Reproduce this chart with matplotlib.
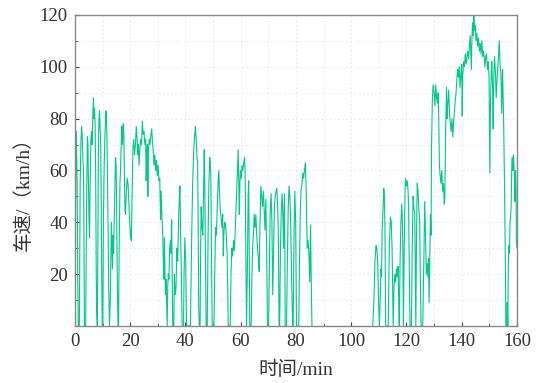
import matplotlib

matplotlib.use("Agg")
import matplotlib.pyplot as plt
from matplotlib.ticker import MultipleLocator

LINE = "#00c98a"
FONTS = ["Liberation Serif", "Noto Sans CJK SC"]

# time (min) and vehicle speed (km/h)
t_min = [
    0, 0.2, 0.4, 0.6, 0.8, 1.0, 1.2, 1.6, 1.9, 2.2, 2.4, 2.6, 2.9, 3.1, 3.3, 3.45,
    3.9, 4.2, 4.5, 4.7, 4.9, 5.1, 5.3, 5.5, 5.8, 6.0, 6.2, 6.5, 6.7, 6.9, 7.1, 7.3,
    7.5, 7.7, 7.9, 8.1, 8.3, 8.5, 8.7, 8.9, 9.1, 9.3, 9.5, 9.7, 9.9, 10.1, 10.3, 10.6,
    10.9, 11.2, 11.4, 11.6, 11.8, 12.0, 12.2, 12.5, 12.8, 13.0, 13.2, 13.4, 13.6, 13.8,
    14.0, 14.2, 14.5, 14.7, 14.9, 15.1, 15.3, 15.6, 15.8, 16.0, 16.3, 16.5, 16.8, 17.0,
    17.2, 17.5, 17.7, 17.9, 18.1, 18.3, 18.6, 18.9, 19.2, 19.5, 19.8, 20.1, 20.4, 20.7,
    21.0, 21.3, 21.6, 21.9,
    22.2, 22.5, 22.8, 23.0, 23.2, 23.5, 23.8, 24.1, 24.4, 24.7, 25.0, 25.3, 25.6, 25.8,
    26.0, 26.2, 26.4, 26.6, 26.9, 27.2, 27.5, 27.8, 28.0, 28.3, 28.6, 28.9, 29.2, 29.5,
    29.8, 30.1, 30.4, 30.7, 31.0, 31.2, 31.5, 31.8, 32.0, 32.2, 32.4, 32.6, 32.8, 33.0,
    33.2, 33.4, 33.6, 33.8, 34.0, 34.3, 34.6, 34.8, 35.0, 35.2, 35.4, 35.8, 36.0, 36.3,
    36.6, 36.9, 37.2, 37.5, 37.8, 38.0, 38.2, 38.5, 38.8, 39.3, 39.5, 39.8, 40.1, 40.4,
    41.8, 42.2, 42.6, 43.0, 43.3, 43.6, 43.9, 44.2, 44.4, 44.6, 44.8, 45.0,
    45.3, 45.5, 45.7, 46.0, 46.3, 46.6, 46.8, 47.0, 47.2, 47.5, 47.9, 48.2, 48.5, 48.8,
    49.0, 49.2, 49.4, 49.7, 50.3, 50.6, 50.9, 51.2, 51.5, 51.8, 52.1, 52.3, 52.6, 52.9,
    53.2, 53.5, 53.7, 53.9, 54.2, 54.5, 54.8, 55.1, 55.3, 55.5, 56.2, 56.5, 56.8, 57.1,
    57.4, 57.7, 58.0, 58.3, 58.6, 58.9, 59.1, 59.3, 59.5, 59.7, 59.9, 60.2, 60.5, 60.8,
    61.1, 61.4, 61.6, 61.8, 62.0, 62.1, 62.4, 62.7, 62.9, 63.1, 63.3, 63.8, 64.0, 64.3,
    64.6, 64.9, 65.2,
    65.5, 65.8, 66.1, 66.4, 66.7, 67.0, 67.3, 67.6, 67.9, 68.2, 68.5, 68.8, 69.1, 69.4,
    69.7, 70.1, 70.4, 70.7, 71.0, 71.3, 71.6, 71.9, 72.2, 72.5, 72.8, 73.1, 73.4, 73.6,
    73.9, 74.1, 74.4, 74.7, 75.0, 75.3, 75.5, 75.8, 76.0, 76.1, 76.6, 76.9, 77.2, 77.5,
    77.8, 78.1, 78.4, 78.8, 79.0, 79.3, 79.6, 79.9, 80.2, 81.0, 81.3, 81.6, 81.9, 82.2,
    82.5, 82.8, 83.1, 83.4, 83.7, 83.9, 84.1, 84.4, 84.7, 85.0, 85.3, 85.5, 85.8,
    107.8, 108.2, 108.6, 109.0, 109.3, 109.6, 109.9, 110.2, 110.5, 110.8, 111.0, 111.2,
    111.5, 111.8, 112.0, 112.2, 112.5, 113.4, 113.8, 114.2, 114.5, 114.8, 115.0, 115.2,
    115.5, 115.8, 116.1, 116.4, 116.7, 117.0, 117.2, 117.4, 117.7, 118.0, 118.3, 118.5,
    118.7, 118.9, 119.2, 119.5, 119.7, 120.0, 120.3, 120.6, 120.8, 121.0, 121.3, 121.8,
    122.1, 122.4, 122.7, 123.0, 123.2, 123.4, 123.6, 123.9, 124.2, 124.5, 124.8, 125.0,
    125.3, 125.9, 126.3, 126.6, 126.9, 127.2, 127.5, 127.8, 128.0, 128.2, 128.4, 128.7,
    128.9, 129.1, 129.4, 129.7, 130.0, 130.3, 130.6, 130.9, 131.2, 131.5, 131.7, 131.9,
    132.2, 132.5, 132.8, 133.1, 133.4, 133.7, 133.9, 134.2, 134.5, 134.7, 135.0, 135.3,
    135.6, 135.9, 136.2, 136.5, 136.8, 137.1, 137.4, 137.6, 137.9, 138.2, 138.5, 138.8,
    139.1, 139.4, 139.7, 140.0, 140.2, 140.4, 140.7, 141.0, 141.3, 141.6, 141.9, 142.2,
    142.5, 142.8, 143.1, 143.3, 143.5, 143.7, 143.9, 144.2, 144.4, 144.6, 144.9, 145.2,
    145.5, 145.8, 146.1, 146.4, 146.7, 147.0, 147.3, 147.6, 147.9, 148.2, 148.4, 148.7,
    149.0, 149.3, 149.6, 149.9, 150.1, 150.2, 150.4, 150.7, 150.9, 151.2, 151.4, 151.6,
    151.9, 152.2, 152.5, 152.8, 153.1, 153.4, 153.6, 153.9, 154.2, 154.5, 154.8, 155.0,
    155.2, 155.5, 155.8, 156.0, 156.3, 156.5, 156.7, 156.9, 157.1, 157.3, 157.5, 157.7,
    157.9, 158.1, 158.3, 158.5, 158.7, 158.9, 159.1, 159.3, 159.5, 159.7, 159.8, 160.0,
]

speed_kmh = [
    0, 45, 75, 68, 55, 20, 0, 0, 55, 72, 77, 74, 64, 60, 30, 0,
    0, 45, 73, 70, 55, 40, 34, 55, 72, 75, 70, 82, 88, 80, 84, 78,
    60, 22, 5, 0, 30, 70, 80, 83, 76, 73, 50, 20, 0, 0, 40, 62,
    75, 83, 80, 72, 55, 38, 15, 0, 10, 25, 40, 30, 22, 35,
    28, 40, 55, 65, 62, 45, 20, 0, 0, 30, 55, 60, 72, 77,
    70, 78, 74, 60, 45, 43, 52, 57, 55, 48, 40, 35, 33, 50,
    69, 72, 66, 70,
    77, 72, 66, 70, 62, 68, 72, 70, 79, 74, 75, 70, 72, 56,
    65, 70, 50, 68, 72, 70, 74, 76, 72, 68, 62, 66, 60, 64,
    58, 62, 56, 57, 41, 52, 42, 35, 25, 18, 34, 20, 12, 18,
    8, 0, 15, 20, 18, 30, 33, 28, 41, 20, 0, 0, 20, 12,
    15, 30, 25, 40, 50, 54, 40, 20, 0, 0, 20, 34, 25, 0,
    0, 30, 55, 68, 73, 77, 72, 64, 64, 40, 8, 0,
    0, 30, 46, 38, 35, 55, 68, 55, 30, 0, 0, 35, 55, 65,
    62, 58, 30, 0, 0, 20, 38, 35, 45, 55, 60, 52, 45, 42,
    38, 43, 27, 35, 40, 39, 35, 27, 15, 0, 0, 20, 30, 27,
    33, 29, 36, 45, 55, 64, 68, 55, 43, 55, 60, 57, 62, 60,
    63, 65, 60, 35, 10, 0, 20, 50, 56, 30, 0, 0, 15, 30,
    35, 43, 38,
    43, 35, 30, 26, 21, 40, 54, 50, 46, 52, 45, 37, 49, 30,
    0, 0, 25, 45, 51, 40, 12, 30, 46, 50, 52, 53, 45, 38,
    0, 0, 30, 45, 51, 42, 30, 51, 30, 0, 0, 25, 45, 54,
    50, 40, 20, 0, 0, 35, 52, 40, 0, 0, 25, 45, 53, 55,
    59, 57, 60, 63, 53, 40, 30, 33, 28, 17, 39, 20, 0,
    0, 9, 25, 31, 30, 25, 10, 0, 10, 22, 19, 37,
    44, 53, 50, 40, 0, 0, 30, 42, 40, 30, 15, 0,
    15, 20, 17, 22, 19, 23, 10, 0, 25, 40, 47, 42,
    30, 0, 30, 52, 57, 54, 56, 52, 45, 25, 0, 0,
    30, 50, 45, 44, 20, 0, 30, 55, 52, 45, 40, 20,
    0, 0, 25, 48, 35, 20, 24, 19, 26, 9, 22, 43,
    35, 70, 88, 93, 90, 85, 93, 88, 86, 90, 80, 63,
    58, 55, 60, 52, 55, 47, 50, 75, 92, 80, 86, 91,
    82, 78, 75, 80, 73, 79, 83, 86, 89, 94, 99, 96,
    100, 92, 97, 101, 81, 97, 102, 100, 105, 101, 104, 106,
    103, 108, 112, 105, 99, 110, 117, 112, 119.5, 114, 116, 110,
    113, 108, 111, 106, 109, 105, 110, 104, 106, 103, 100, 104,
    105, 99, 102, 96, 70, 59, 85, 98, 102, 92, 76, 95,
    104, 98, 88, 96, 100, 106, 110, 100, 98, 82, 99, 88,
    78, 55, 25, 0, 0, 9, 0, 25, 31, 28, 40, 42,
    46, 60, 65, 60, 66, 62, 58, 48, 60, 52, 33, 30,
]

# the stop between the two trips
stop_t = [85.8, 107.8]
stop_v = [0, 0]

fig = plt.figure(figsize=(5.43, 3.83), dpi=100)
ax = fig.add_axes([0.138, 0.149, 0.814, 0.812])

first = t_min.index(85.8) + 1
ax.plot(t_min[:first], speed_kmh[:first], color=LINE, lw=0.8)
ax.plot(stop_t, stop_v, color=LINE, lw=0.8)
ax.plot(t_min[first:], speed_kmh[first:], color=LINE, lw=0.8)

ax.set_xlim(0, 160)
ax.set_ylim(0, 120)
ax.xaxis.set_major_locator(MultipleLocator(20))
ax.xaxis.set_minor_locator(MultipleLocator(10))
ax.yaxis.set_major_locator(MultipleLocator(20))
ax.yaxis.set_minor_locator(MultipleLocator(10))
ax.set_yticks([20, 40, 60, 80, 100, 120])
ax.tick_params(which="both", direction="in", top=False, right=False,
               color="#444444")
ax.tick_params(which="major", length=3, labelsize=13.5, pad=5)
ax.tick_params(which="minor", length=2)
for lab in ax.get_xticklabels() + ax.get_yticklabels():
    lab.set_family(FONTS)
    lab.set_color("#333333")
ax.grid(True, which="both", color="#e4e4e4", lw=0.6, ls=(0, (2, 3)))
ax.set_axisbelow(True)
for s in ax.spines.values():
    s.set_color("#888888")
    s.set_linewidth(1.0)

ax.set_xlabel("时间/min", family=FONTS, fontsize=14, color="#333333",
              fontweight="light", labelpad=8)
ax.set_ylabel("车速/（km/h）", family=FONTS, fontsize=14, color="#333333",
              fontweight="light", labelpad=6)
ax.yaxis.set_label_coords(-0.095, 0.44)

fig.savefig("out.png", dpi=100, facecolor="white")
